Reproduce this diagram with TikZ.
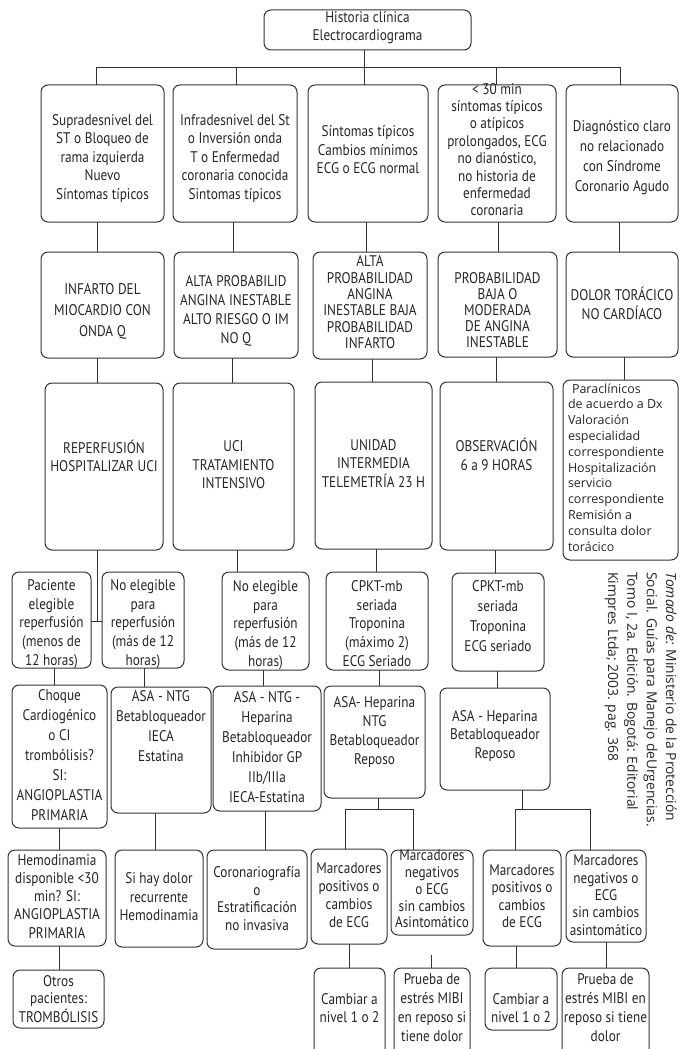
\documentclass[tikz,border=0pt]{standalone}
\usepackage{fontspec}
\setmainfont[FakeStretch=0.86]{PT Sans}
\newfontfamily\osans{Open Sans}
\newdimen\px \px=0.75pt
\tikzset{
 bx/.style={draw=black!80, line width=0.75pt, rounded corners=5.25pt, inner sep=0pt, outer sep=0pt, text=black!85},
 ln/.style={draw=black!80, line width=0.75pt},
}
% #1 line spacing (px), #2 name, #3 x1, #4 y1, #5 x2, #6 y2, #7 vertical pos, #8 vertical shift (px), #9 text
\newcommand\bx[9][18.5]{\node[bx] (#2) at ({(#3+#5)/2},{(#4+#6)/2}) {\begin{minipage}[c][\numexpr#6-#4\relax\px][#7]{\numexpr#5-#3\relax\px}\fontsize{11.55pt}{#1\px}\selectfont\vspace*{#8\px}\centering\makebox[\linewidth]{\begin{tabular}{@{}c@{}}#9\end{tabular}}\end{minipage}};}
\begin{document}
\begin{tikzpicture}[x=0.75pt,y=-0.75pt]
\useasboundingbox (0,0) rectangle (680,1049);
\clip (0,0) rectangle (680,1049);
% top
\bx{T}{264}{10}{471}{50}{c}{-4}{Historia clínica\\Electrocardiograma}
% row 1
\bx{Ra}{41}{85}{164}{222}{c}{10}{Supradesnivel del\\ST o Bloqueo de\\rama izquierda\\Nuevo\\Síntomas típicos}
\bx{Rb}{173}{85}{297}{222}{c}{10}{Infradesnivel del St\\o Inversión onda\\T o Enfermedad\\coronaria conocida\\Sintomas típicos}
\bx{Rc}{308}{85}{428}{222}{c}{-4}{Síntomas típicos\\Cambios mínimos\\ECG o ECG normal}
\bx[17.4]{Rd}{438}{85}{556}{222}{c}{-4}{< 30 min\\síntomas típicos\\o atípicos\\prolongados, ECG\\no dianóstico,\\no historia de\\enfermedad\\coronaria}
\bx[20]{Re}{566}{85}{678}{222}{c}{8}{Diagnóstico claro\\no relacionado\\con Síndrome\\Coronario Agudo}
% row 2
\bx[21]{Sa}{41}{252}{164}{358}{c}{12}{INFARTO DEL\\MIOCARDIO CON\\ONDA Q}
\bx[19]{Sb}{174}{252}{298}{358}{c}{13}{ALTA PROBABILID\\ANGINA INESTABLE\\ALTO RIESGO O IM\\NO Q}
\bx[16.4]{Sc}{313}{252}{427}{359}{c}{-2}{ALTA\\PROBABILIDAD\\ANGINA\\INESTABLE BAJA\\PROBABILIDAD\\INFARTO}
\bx[16]{Sd}{438}{252}{557}{357}{c}{16}{PROBABILIDAD\\BAJA O\\MODERADA\\DE ANGINA\\INESTABLE}
\bx{Se}{566}{252}{678}{357}{c}{4}{DOLOR TORÁCICO\\NO CARDÍACO}
% row 3
\bx{Ua}{45}{383}{163}{550}{c}{-16}{REPERFUSIÓN\\HOSPITALIZAR UCI}
\bx{Ub}{173}{383}{294}{550}{c}{0}{UCI\\TRATAMIENTO\\INTENSIVO}
\bx{Uc}{315}{382}{432}{549}{c}{0}{UNIDAD\\INTERMEDIA\\TELEMETRÍA 23 H}
\bx{Ud}{440}{382}{553}{550}{c}{-18}{OBSERVACIÓN\\6 a 9 HORAS}
\node[bx] (Ue) at ({(563+678)/2},{(380+560)/2}) {\begin{minipage}[c][180\px][t]{115\px}\osans\fontsize{9.375pt}{11.85pt}\selectfont\vspace*{2\px}\begin{tabular}{@{\hspace{5\px}}l@{}}\hspace*{4\px}Paraclínicos\\de acuerdo a Dx\\Valoración\\especialidad\\correspondiente\\Hospitalización\\servicio\\correspondiente\\Remisión a\\consulta dolor\\torácico\end{tabular}\end{minipage}};
% row 4
\bx[18.75]{Va}{12}{572}{91}{668}{c}{8}{Paciente\\elegible\\reperfusión\\(menos de\\12 horas)}
\bx[18.75]{Vb}{102}{572}{184}{668}{c}{8}{No elegible\\para\\reperfusión\\(más de 12\\horas)}
\bx[18.75]{Vc}{222}{572}{309}{670}{c}{8}{No elegible\\para\\reperfusión\\(más de 12\\horas)}
\bx[18.75]{Vd}{326}{572}{428}{670}{c}{8}{CPKT-mb\\seriada\\Troponina\\(máximo 2)\\ECG Seriado}
\bx[20]{Ve}{452}{573}{544}{671}{c}{-9}{CPKT-mb\\seriada\\Troponina\\ECG seriado}
% row 5
\bx[20]{Wa}{12}{685}{107}{828}{c}{0}{Choque\\Cardiogénico\\o CI\\trombólisis?\\SI:\\ANGIOPLASTIA\\PRIMARIA}
\bx[20]{Wb}{111}{687}{211}{813}{t}{0}{ASA - NTG\\Betabloqueador\\IECA\\Estatina}
\bx[20]{Wc}{213}{686}{321}{811}{c}{0}{ASA - NTG -\\Heparina\\Betabloqueador\\Inhibidor GP\\IIb/IIIa\\IECA-Estatina}
\bx[19]{Wd}{324}{686}{425}{798}{t}{8}{ASA- Heparina\\NTG\\Betabloqueador\\Reposo}
\bx{We}{440}{688}{550}{790}{c}{-6}{ASA - Heparina\\Betabloqueador\\Reposo}
% row 6
\bx[18.3]{Xa}{8}{850}{106}{946}{c}{0}{Hemodinamia\\disponible <30\\min? SI:\\ANGIOPLASTIA\\PRIMARIA}
\bx{Xb}{115}{850}{203}{947}{c}{0}{Si hay dolor\\recurrente\\Hemodinamia}
\bx[17.5]{Xc}{207}{850}{307}{949}{c}{2}{Coronariografía\\o\\Estratificación\\no invasiva}
\bx[18]{Xd}{311}{849}{387}{944}{c}{0}{Marcadores\\positivos o\\cambios\\de ECG}
\bx[16.8]{Xe}{391}{850}{473}{935}{c}{-3}{Marcadores\\negativos\\o ECG\\sin cambios\\Asintomático}
\bx[17.5]{Xf}{483}{850}{561}{946}{c}{0}{Marcadores\\positivos o\\cambios\\de ECG}
\bx[17.3]{Xg}{566}{850}{646}{942}{c}{2}{Marcadores\\negativos o\\ECG\\sin cambios\\asintomático}
% row 7
\bx[17.5]{Ya}{13}{970}{104}{1028}{c}{4}{Otros\\pacientes:\\TROMBÓLISIS}
\bx[18]{Yd}{314}{968}{385}{1062}{t}{24}{Cambiar a\\nivel 1 o 2}
\bx[19]{Ye}{394}{968}{470}{1062}{t}{3}{Prueba de\\estrés MIBI\\en reposo si\\tiene dolor}
\bx[18]{Yf}{485}{968}{557}{1030}{t}{24}{Cambiar a\\nivel 1 o 2}
\bx[19]{Yg}{562}{968}{649}{1062}{t}{3}{Prueba de\\estrés MIBI en\\reposo si tiene\\dolor}
% caption
\node[rotate=-90, anchor=north west, inner sep=0pt, align=left, text=black!85, font=\osans\fontsize{10.4pt}{14.5pt}\selectfont] (cap) at (677,572) {\textit{Tomado de:} Ministerio de la Protección\\Social. Guías para Manejo deUrgencias.\\Tomo I, 2a. Edición. Bogotá: Editorial\\Kimpres Ltda; 2003. pag. 368};
% junction coordinates
\coordinate (jt) at (364,68);
\coordinate (busL) at (96,68);
\coordinate (busR) at (620,68);
\coordinate (ja) at (97,621);
\coordinate (jd) at (378,809);
\coordinate (jd1) at (345,809);
\coordinate (jd2) at (413,809);
\coordinate (je) at (522,809);
\coordinate (je1) at (515,809);
\coordinate (je2) at (590,809);
\coordinate (f1) at (431,955);
% connectors
\draw[ln] (T.south -| jt) -- (jt);
\draw[ln] (Ra.north -| busL) -- (busL) -- (busR) -- (Re.north -| busR);
\draw[ln] (Rb.north -| 236,0) |- (jt);
\draw[ln] (Rc.north -| jt) -- (jt);
\draw[ln] (Rd.north -| 496,0) |- (jt);
\draw[ln] (Ra.south -| 97,0) -- (Sa.north -| 97,0);
\draw[ln] (Rb.south -| 233,0) -- (Sb.north -| 233,0);
\draw[ln] (Rc.south -| 366,0) -- (Sc.north -| 366,0);
\draw[ln] (Rd.south -| 498,0) -- (Sd.north -| 498,0);
\draw[ln] (Re.south -| 619,0) -- (Se.north -| 619,0);
\draw[ln] (Sa.south -| 97,0) -- (Ua.north -| 97,0);
\draw[ln] (Sb.south -| 232,0) -- (Ub.north -| 232,0);
\draw[ln] (Sc.south -| 372,0) -- (Uc.north -| 372,0);
\draw[ln] (Sd.south -| 496,0) -- (Ud.north -| 496,0);
\draw[ln] (Se.south -| 624,0) -- (Ue.north -| 624,0);
\draw[ln] (Ua.south -| ja) -- (ja);
\draw[ln] (Va.east |- ja) -- (Vb.west |- ja);
\draw[ln] (Ub.south -| 237,0) -- (Vc.north -| 237,0);
\draw[ln] (Uc.south -| 376,0) -- (Vd.north -| 376,0);
\draw[ln] (Ud.south -| 495,0) -- (Ve.north -| 495,0);
\draw[ln] (Va.south -| 54,0) -- (Wa.north -| 54,0);
\draw[ln] (Vb.south -| 144,0) -- (Wb.north -| 144,0);
\draw[ln] (Vc.south -| 263,0) -- (Wc.north -| 263,0);
\draw[ln] (Vd.south -| 379,0) -- (Wd.north -| 379,0);
\draw[ln] (Ve.south -| 497,0) -- (We.north -| 497,0);
\draw[ln] (Wa.south -| 59,0) -- (Xa.north -| 59,0);
\draw[ln] (Wb.south -| 155,0) -- (Xb.north -| 155,0);
\draw[ln] (Wc.south -| 265,0) -- (Xc.north -| 265,0);
\draw[ln] (Wd.south -| jd) -- (jd);
\draw[ln] (Xd.north -| jd1) -- (jd1) -- (jd2) -- (Xe.north -| jd2);
\draw[ln] (We.south -| je) -- (je);
\draw[ln] (Xf.north -| je1) -- (je1) -- (je2) -- (Xg.north -| je2);
\draw[ln] (Xa.south -| 59,0) -- (Ya.north -| 59,0);
\draw[ln] (Xd.south -| 349,0) -- (Yd.north -| 349,0);
\draw[ln] (Ye.north -| f1) -- (f1);
\draw[ln] (Xf.south -| 516,0) -- (Yf.north -| 516,0);
\draw[ln] (Xg.south -| 606,0) -- (Yg.north -| 606,0);
\end{tikzpicture}
\end{document}
